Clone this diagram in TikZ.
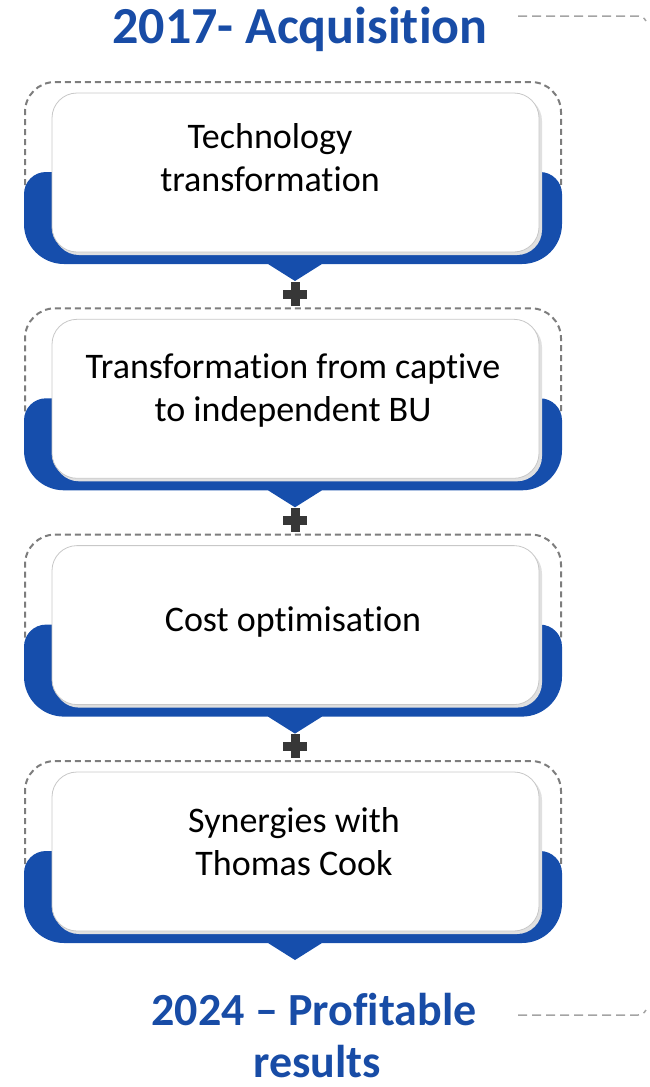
\documentclass[tikz,border=0pt]{standalone}
\usepackage{fontspec}
\setmainfont{Carlito}[Ligatures={NoCommon}]
\definecolor{tblue}{RGB}{24,76,166}
\definecolor{sblue}{RGB}{22,78,172}
\definecolor{dgray}{RGB}{125,125,125}
\definecolor{plusgray}{RGB}{55,55,55}
\definecolor{boxedge}{RGB}{200,200,200}
\tikzset{
  titletext/.style={text=tblue, font=\bfseries\fontsize{52}{56}\selectfont, inner sep=0pt},
  endtext/.style={text=tblue, font=\bfseries\fontsize{46}{55}\selectfont, inner sep=0pt, align=center},
  bodytext/.style={text=black, font=\fontsize{36}{43}\selectfont, inner sep=0pt, align=center},
  dashout/.style={draw=dgray, line width=2pt, dash pattern=on 6pt off 4pt, rounded corners=30pt},
  bluetab/.style={fill=sblue},
  whitebox/.style={draw=boxedge, line width=0.8pt, fill=white, rounded corners=25pt},
  plusbar/.style={fill=plusgray},
  sideline/.style={draw=dgray!70, line width=1.5pt, dash pattern=on 9pt off 5pt},
}
\newcommand{\stageblock}[2]{%
  % #1 = top y of dashed outline, #2 = name
  \draw[dashout] (25,#1+103) -- (25,#1) -- (561,#1) -- (561,#1+103);
  \fill[bluetab] (24,#1+115) [rounded corners=22pt] -- (24,#1+90) -- (562,#1+90) [rounded corners=40pt] -- (562,#1+182) [sharp corners] -- (322,#1+182) -- (295,#1+199) -- (268,#1+182) [rounded corners=40pt] -- (24,#1+182) [sharp corners] -- cycle;
  \fill[black!12] (54,#1+14) [rounded corners=25pt] rectangle (542,#1+173);
  \draw[whitebox] (52,#1+11) rectangle (539,#1+170);
  \coordinate (#2) at (295,#1+90);
}
\newcommand{\plussign}[2]{%
  \fill[plusbar] (#1-12,#2-4.5) rectangle (#1+12,#2+4.5);
  \fill[plusbar] (#1-4.5,#2-12) rectangle (#1+4.5,#2+12);
}
\begin{document}
\begin{tikzpicture}[x=1pt,y=-1pt]
\useasboundingbox (0,0) rectangle (649,1087);

\node[titletext, anchor=base] (title) at (300,43) {2017- Acquisition};
\draw[sideline] (518,16) -- (638,16) to[out=0,in=120] (646,21);

\stageblock{82}{b1}
\stageblock{308.3}{b2}
\stageblock{534.6}{b3}
\stageblock{761}{b4}

\plussign{295}{294}
\plussign{295}{520}
\plussign{295}{746}

\node[bodytext] (t1) at (270,158) {Technology\\transformation};
\node[bodytext] (t2) at (293,391) {Transformation from captive\\to independent BU};
\node[bodytext] (t3) at (293,622) {Cost optimisation};
\node[bodytext] (t4) at (294,842) {Synergies with\\Thomas Cook};

\node[endtext, anchor=base] (end1) at (314,1025) {2024 -- Profitable};
\node[endtext, anchor=base] (end2) at (317,1077) {results};
\draw[sideline] (518,1015) -- (638,1015) to[out=0,in=-120] (646,1010);
\end{tikzpicture}
\end{document}
